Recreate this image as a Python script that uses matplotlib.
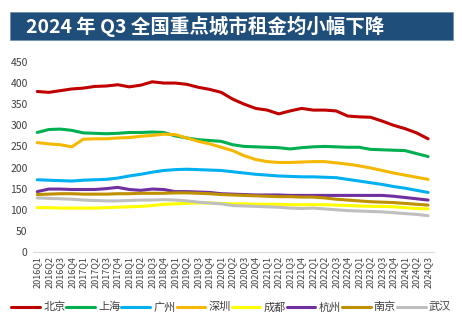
import matplotlib
matplotlib.use('Agg')
import matplotlib.pyplot as plt
from matplotlib.patches import Rectangle

plt.rcParams['font.family'] = ['Noto Sans CJK SC', 'DejaVu Sans']

# quarters 2016Q1 .. 2024Q3
quarters = [f'{y}Q{q}' for y in range(2016, 2025) for q in range(1, 5)][:35]

beijing = [380, 378, 382, 386, 388, 392, 393, 396, 391, 395, 403, 400, 400, 397, 390, 385,
           378, 362, 350, 340, 336, 327, 334, 340, 336, 336, 334, 322, 320, 319, 310, 300,
           292, 282, 268]
shanghai = [283, 290, 291, 288, 282, 281, 280, 281, 283, 283, 284, 283, 275, 270, 266, 264,
            262, 254, 250, 249, 248, 247, 244, 247, 249, 250, 249, 248, 248, 243, 242, 241,
            240, 233, 226]
guangzhou = [171, 170, 169, 168, 170, 171, 172, 175, 180, 184, 189, 193, 195, 196, 195, 194,
             193, 190, 187, 184, 182, 180, 179, 178, 178, 177, 176, 172, 168, 164, 160, 155,
             151, 146, 141]
shenzhen = [259, 256, 254, 249, 267, 268, 268, 270, 271, 274, 276, 279, 278, 270, 262, 256,
            248, 240, 228, 219, 214, 212, 212, 213, 214, 214, 211, 208, 204, 199, 193, 187,
            182, 177, 172]
chengdu = [105, 105, 104, 104, 104, 104, 105, 106, 107, 108, 110, 113, 114, 115, 116, 116,
           115, 114, 114, 113, 113, 113, 112, 112, 112, 112, 111, 110, 109, 108, 108, 107,
           105, 103, 102]
hangzhou = [143, 149, 149, 148, 148, 148, 150, 153, 148, 146, 149, 148, 143, 143, 142, 141,
            138, 137, 136, 135, 135, 135, 134, 134, 134, 134, 134, 134, 134, 134, 134, 132,
            129, 126, 123]
nanjing = [136, 137, 138, 138, 137, 137, 137, 138, 138, 139, 139, 139, 140, 140, 139, 138,
           136, 135, 134, 133, 132, 131, 131, 130, 130, 128, 125, 123, 121, 119, 118, 117,
           115, 113, 111]
wuhan = [128, 127, 126, 125, 123, 122, 121, 121, 122, 123, 123, 124, 123, 121, 118, 116,
         114, 110, 109, 108, 107, 106, 104, 103, 104, 102, 100, 98, 97, 96, 95, 93,
         91, 89, 86]

names = ['北京', '上海', '广州', '深圳', '成都', '杭州', '南京', '武汉']
series = [beijing, shanghai, guangzhou, shenzhen, chengdu, hangzhou, nanjing, wuhan]
colors = ['#C00000', '#00B050', '#00B0F0', '#F5B800', '#FFFF00', '#7030A0', '#BF9000', '#BFBFBF']

fig = plt.figure(figsize=(4.62, 3.26), dpi=100)

# title bar
fig.patches.append(Rectangle((0.0216, 0.877), 0.959, 0.086, transform=fig.transFigure,
                             facecolor='#1F4E7A', edgecolor='#6F8FB0', lw=0.6))
fig.text(0.056, 0.92, '2024 年 Q3 全国重点城市租金均小幅下降', color='white',
         fontsize=14, fontweight='bold', va='center', ha='left')

ax = fig.add_axes([0.072, 0.227, 0.867, 0.583])
x = list(range(len(quarters)))
for name, vals, c in zip(names, series, colors):
    ax.plot(x, vals, color=c, lw=2.2, label=name, solid_capstyle='round')

ax.set_ylim(0, 450)
ax.set_yticks(range(0, 451, 50))
ax.set_xlim(-0.35, 34.5)
ax.set_xticks(x)
ax.set_xticklabels(quarters, rotation=90, fontsize=6.5, color='#404040')
ax.tick_params(axis='y', labelsize=7.5, labelcolor='#404040', length=0, pad=4)
ax.tick_params(axis='x', length=0, pad=3)
for s in ['top', 'right', 'left']:
    ax.spines[s].set_visible(False)
ax.spines['bottom'].set_color('#D9D9D9')

fig.legend(loc='center', bbox_to_anchor=(0.5, 0.058), ncol=8, frameon=False,
           fontsize=8, handlelength=2.6, handletextpad=0.25, columnspacing=0.1,
           labelcolor='#404040')

fig.savefig('out.png', dpi=100)
